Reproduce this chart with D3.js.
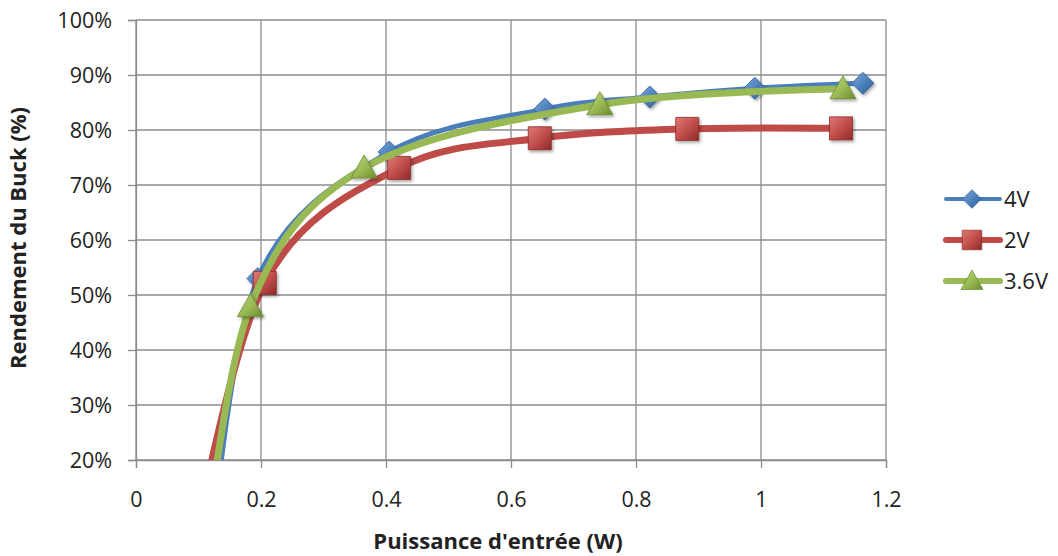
<!DOCTYPE html>
<html><head><meta charset="utf-8">
<script src="https://cdn.jsdelivr.net/npm/d3@7"></script>
<style>body{margin:0;background:#fff}svg{display:block}text{font-family:"Open Sans",sans-serif;fill:#222}</style>
</head><body><svg id="c" width="1058" height="556"></svg>
<script>
// x = input power (W), y = efficiency (%). First point of each series lies below the visible 20% floor.
const x4V  = [0.118, 0.195, 0.405, 0.654, 0.822, 0.990, 1.163];
const y4V  = [0,     53.0,  76.0,  83.8,  86.0,  87.6,  88.5];
const x2V  = [0.085, 0.206, 0.421, 0.646, 0.882, 1.128];
const y2V  = [0,     52.2,  73.1,  78.5,  80.2,  80.3];
const x36V = [0.108, 0.183, 0.365, 0.742, 1.131];
const y36V = [0,     47.9,  73.1,  84.6,  87.5];
const xTicks = [0, 0.2, 0.4, 0.6, 0.8, 1, 1.2];
const yTicks = [20, 30, 40, 50, 60, 70, 80, 90, 100];
const seriesNames = ["4V", "2V", "3.6V"];

const series = [
  {name: seriesNames[0], xs: x4V, ys: y4V, color: "#4A7EBB", dark: "#2C5D96", light: "#7FA8DA", shape: "diamond", w: 5},
  {name: seriesNames[1], xs: x2V, ys: y2V, color: "#BE4B48", dark: "#8C2A28", light: "#E07A77", shape: "square", w: 7},
  {name: seriesNames[2], xs: x36V, ys: y36V, color: "#98B954", dark: "#6B8A30", light: "#B9D47F", shape: "triangle", w: 7}
];

const svg = d3.select("#c");
const L = 136, R = 886, T = 20, B = 460;
const x = d3.scaleLinear().domain([0, 1.2]).range([L, R]);
const y = d3.scaleLinear().domain([20, 100]).range([B, T]);

const defs = svg.append("defs");
defs.append("clipPath").attr("id", "plot").append("rect").attr("x", L).attr("y", T - 20).attr("width", R - L + 30).attr("height", B - T + 20);
const f = defs.append("filter").attr("id", "sh").attr("x", "-50%").attr("y", "-50%").attr("width", "200%").attr("height", "200%");
f.append("feDropShadow").attr("dx", 1.5).attr("dy", 2).attr("stdDeviation", 1.5).attr("flood-color", "#000").attr("flood-opacity", 0.35);
series.forEach((s, i) => {
  const g = defs.append("linearGradient").attr("id", "g" + i).attr("x1", 0).attr("y1", 0).attr("x2", 1).attr("y2", 1);
  g.append("stop").attr("offset", "0%").attr("stop-color", s.light);
  g.append("stop").attr("offset", "55%").attr("stop-color", s.color);
  g.append("stop").attr("offset", "100%").attr("stop-color", s.dark);
});

// gridlines
svg.append("g").selectAll("line.h").data(yTicks).join("line")
  .attr("x1", L).attr("x2", R).attr("y1", d => y(d)).attr("y2", d => y(d))
  .attr("stroke", "#8c8c8c").attr("stroke-width", 1.3);
svg.append("g").selectAll("line.v").data(xTicks).join("line")
  .attr("y1", T).attr("y2", B).attr("x1", d => x(d)).attr("x2", d => x(d))
  .attr("stroke", "#8c8c8c").attr("stroke-width", 1.3);

// axes
const xAxis = d3.axisBottom(x).tickValues(xTicks).tickSize(8).tickPadding(24).tickFormat(d => String(d));
const yAxis = d3.axisLeft(y).tickValues(yTicks).tickSize(8).tickPadding(16).tickFormat(d => d + "%");
const gx = svg.append("g").attr("transform", `translate(0,${B})`).call(xAxis);
const gy = svg.append("g").attr("transform", `translate(${L},0)`).call(yAxis);
[gx, gy].forEach(g => {
  g.select(".domain").attr("stroke", "#8c8c8c").attr("stroke-width", 1.3);
  g.selectAll(".tick line").attr("stroke", "#8c8c8c").attr("stroke-width", 1.3);
  g.selectAll(".tick text").attr("font-family", "Open Sans").attr("font-size", 21.5).attr("fill", "#222");
});
gy.selectAll(".tick text").attr("dy", "0.36em");

// titles
svg.append("text").attr("x", 498).attr("y", 549).attr("text-anchor", "middle")
  .attr("font-size", 22).attr("font-weight", "bold").text("Puissance d'entrée (W)");
svg.append("text").attr("transform", "translate(26,238) rotate(-90)").attr("text-anchor", "middle")
  .attr("font-size", 22).attr("font-weight", "bold").text("Rendement du Buck (%)");

function markerPath(shape) {
  if (shape === "diamond") return "M0,-11L11,0L0,11L-11,0Z";
  if (shape === "square") return "M-11.5,-11.5H11.5V11.5H-11.5Z";
  return "M0,-13L13,10H-13Z";
}

const line = d3.line().x(d => x(d[0])).y(d => y(d[1])).curve(d3.curveCardinal.tension(0));
const plot = svg.append("g").attr("clip-path", "url(#plot)");
series.forEach((s, i) => {
  const pts = s.xs.map((v, j) => [v, s.ys[j]]);
  plot.append("path").datum(pts).attr("d", line).attr("fill", "none")
    .attr("stroke", s.color).attr("stroke-width", s.w).attr("stroke-linecap", "round");
  plot.selectAll(null).data(pts.filter(p => p[1] >= 20)).join("path")
    .attr("transform", p => `translate(${x(p[0])},${y(p[1])})`)
    .attr("d", markerPath(s.shape)).attr("fill", `url(#g${i})`)
    .attr("stroke", s.dark).attr("stroke-width", 0.8).attr("filter", "url(#sh)");
});

// legend
const leg = svg.append("g");
series.forEach((s, i) => {
  const yy = 199 + i * 41;
  leg.append("line").attr("x1", 946).attr("x2", 1000).attr("y1", yy).attr("y2", yy)
    .attr("stroke", s.color).attr("stroke-width", s.w - 1).attr("stroke-linecap", "round");
  leg.append("path").attr("transform", `translate(972,${yy}) scale(0.85)`).attr("d", markerPath(s.shape))
    .attr("fill", `url(#g${i})`).attr("stroke", s.dark).attr("stroke-width", 0.8);
  leg.append("text").attr("x", 1004).attr("y", yy).attr("dy", "0.36em").attr("font-size", 22).text(s.name);
});
</script></body></html>
